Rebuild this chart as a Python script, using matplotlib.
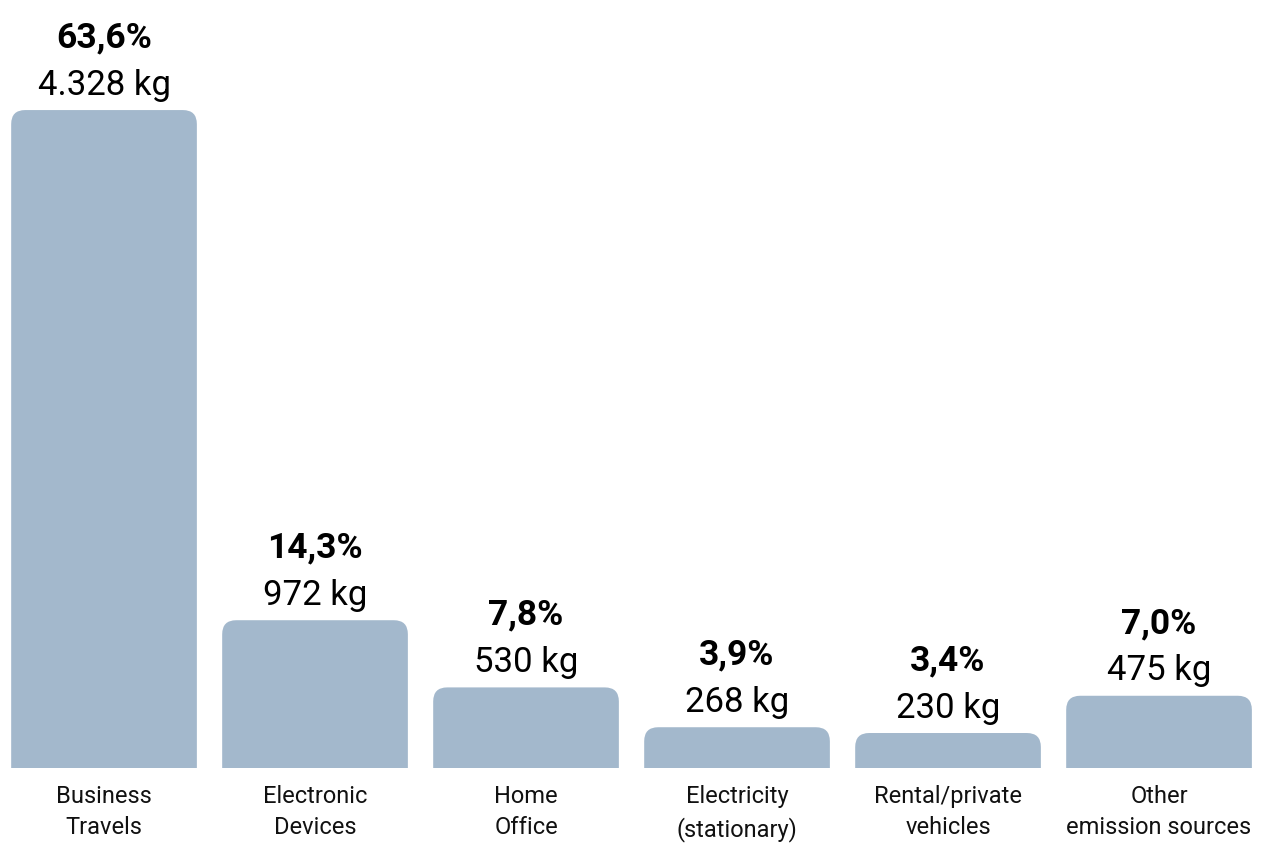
import matplotlib.pyplot as plt
from matplotlib.patches import FancyBboxPatch

# data
categories = ['Business\nTravels', 'Electronic\nDevices', 'Home\nOffice',
              'Electricity\n(stationary)', 'Rental/private\nvehicles',
              'Other\nemission sources']
emissions_kg = [4328, 972, 530, 268, 230, 475]
shares = ['63,6%', '14,3%', '7,8%', '3,9%', '3,4%', '7,0%']
kg_labels = ['4.328 kg', '972 kg', '530 kg', '268 kg', '230 kg', '475 kg']

bar_color = '#a3b8cc'
plt.rcParams['font.family'] = ['Roboto', 'DejaVu Sans']

fig = plt.figure(figsize=(12.85, 8.43), dpi=100)
ax = fig.add_axes([0, 0.089, 1, 0.911])
ax.set_xlim(-0.493, 5.597)
ax.set_ylim(0, 5052)

x = list(range(len(categories)))
bars = ax.bar(x, emissions_kg, width=0.88, color=bar_color)

# swap plain bars for ones with rounded top corners
fig_w, fig_h = fig.get_size_inches() * fig.dpi
xpx = (5.597 + 0.493) / fig_w
ypx = 5052 / (fig_h * 0.911)
radius_px = 14
for b in bars:
    bx, bw, bh = b.get_x(), b.get_width(), b.get_height()
    b.remove()
    extra = radius_px * 2 * ypx
    patch = FancyBboxPatch((bx, -extra), bw, bh + extra,
                           boxstyle='round,pad=0,rounding_size=%f' % (radius_px * xpx),
                           mutation_aspect=ypx / xpx,
                           facecolor=bar_color, edgecolor='none')
    ax.add_patch(patch)

#labels above each bar
for i, v in enumerate(emissions_kg):
    ax.annotate(kg_labels[i], (i, v), xytext=(0, 11), textcoords='offset points',
                ha='center', va='baseline', fontsize=25, color='black')
    ax.annotate(shares[i], (i, v), xytext=(0, 45), textcoords='offset points',
                ha='center', va='baseline', fontsize=25.5, fontweight='bold', color='black')

ax.set_xticks(x, categories)
ax.tick_params(axis='x', length=0, pad=12, labelsize=17, colors='#111111')
for lbl in ax.get_xticklabels():
    lbl.set_linespacing(1.48)
ax.set_yticks([])
for s in ax.spines.values():
    s.set_visible(False)

fig.savefig('out.png', dpi=100)
